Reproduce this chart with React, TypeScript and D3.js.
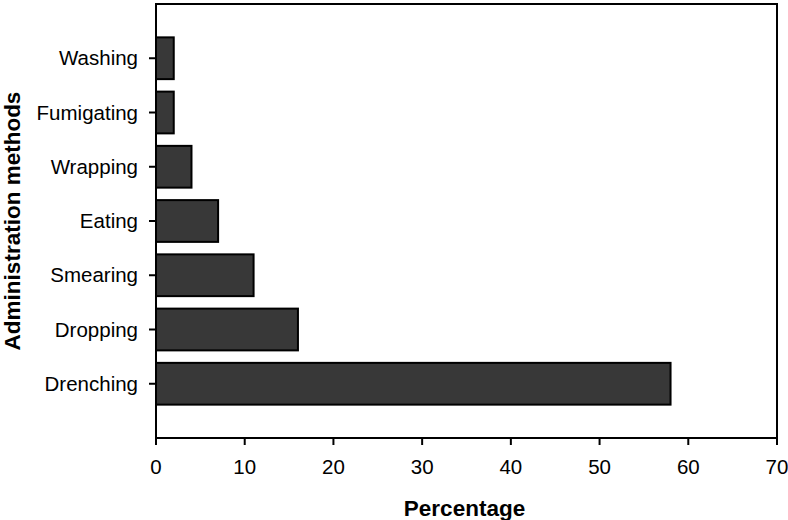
import React from "react";
import * as d3 from "d3";

const methods = ["Washing", "Fumigating", "Wrapping", "Eating", "Smearing", "Dropping", "Drenching"];
const percentages = [2, 2, 4, 7, 11, 16, 58];
const xTicks = [0, 10, 20, 30, 40, 50, 60, 70];

const App = () => {
  const width = 788;
  const height = 520;
  const margin = { top: 4, right: 11, bottom: 82, left: 156 };
  const innerW = width - margin.left - margin.right;
  const innerH = height - margin.top - margin.bottom;
  const font = "Liberation Sans, Arial, sans-serif";

  const x = d3.scaleLinear().domain([0, 70]).range([0, innerW]);
  const y = d3.scalePoint<string>().domain(methods).range([0, innerH]).padding(1);
  const barH = y.step() * 0.77;

  return (
    <svg width={width} height={height} style={{ position: "absolute", left: 0, top: 0 }}>
      <g transform={`translate(${margin.left},${margin.top})`}>
        {/* bars */}
        {methods.map((m, i) => (
          <rect
            key={m}
            x={x(0)}
            y={(y(m) as number) - barH / 2}
            width={x(percentages[i]) - x(0)}
            height={barH}
            fill="#383838"
            stroke="#000"
            strokeWidth={2}
          />
        ))}
        {/* frame */}
        <rect x={0} y={0} width={innerW} height={innerH} fill="none" stroke="#000" strokeWidth={2} />
        {/* y ticks */}
        {methods.map((m) => (
          <g key={m} transform={`translate(0,${y(m)})`}>
            <line x1={-7} x2={0} stroke="#000" strokeWidth={2} />
            <text x={-18} dy="0.35em" textAnchor="end" fontFamily={font} fontSize={20.5}>
              {m}
            </text>
          </g>
        ))}
        {/* x ticks */}
        {xTicks.map((t) => (
          <g key={t} transform={`translate(${x(t)},${innerH})`}>
            <line y1={0} y2={7} stroke="#000" strokeWidth={2} />
            <text y={29} dy="0.35em" textAnchor="middle" fontFamily={font} fontSize={20.5}>
              {t}
            </text>
          </g>
        ))}
        <text
          x={innerW / 2 - 2}
          y={innerH + 70}
          dy="0.35em"
          textAnchor="middle"
          fontFamily={font}
          fontSize={22.5}
          fontWeight="bold"
        >
          Percentage
        </text>
      </g>
      <text
        transform={`translate(12,${margin.top + innerH / 2}) rotate(-90)`}
        dy="0.35em"
        textAnchor="middle"
        fontFamily={font}
        fontSize={22.5}
        fontWeight="bold"
      >
        Administration methods
      </text>
    </svg>
  );
};

export default App;
